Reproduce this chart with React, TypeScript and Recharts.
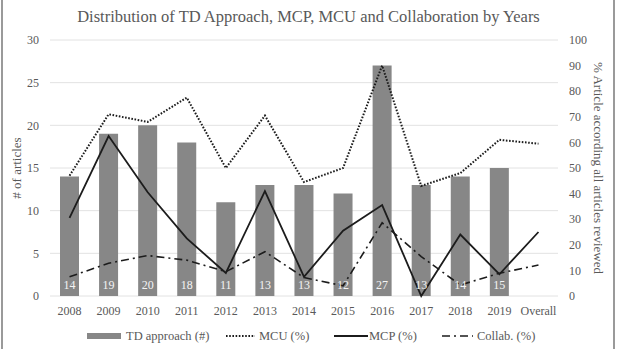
import { ComposedChart, Bar, Line, XAxis, YAxis, CartesianGrid, LabelList } from 'recharts';

const years = ['2008', '2009', '2010', '2011', '2012', '2013', '2014', '2015', '2016', '2017', '2018', '2019', 'Overall'];
const tdApproach = [14, 19, 20, 18, 11, 13, 13, 12, 27, 13, 14, 15, null];
const mcuPct = [47, 71, 68, 77.5, 50, 70.5, 44.5, 50, 90, 43, 48, 61, 59.5];
const mcpPct = [30.5, 62.5, 40.5, 22.5, 9, 41, 7.5, 25.5, 35.5, 0, 24, 8.5, 25];
const collabPct = [7.5, 12.8, 15.8, 14, 9.5, 17.3, 7.2, 4, 28.6, 15.4, 4.3, 8.9, 12.1];

const data = years.map((year, i) => ({
    year,
    td: tdApproach[i],
    mcu: mcuPct[i],
    mcp: mcpPct[i],
    collab: collabPct[i],
}));

const TEXT = '#595959';
const FONT = 'Liberation Serif, DejaVu Serif, serif';
const BAR = '#878787';
const INK = '#1c1c1c';

const tick = { fill: TEXT, fontSize: 12, fontFamily: FONT };

export default function App() {
    return (
        <div style={{ position: 'absolute', left: 0, top: 0, width: 617, height: 349, background: '#fff', fontFamily: FONT, color: TEXT }}>
            {/* frame edges */}
            <div style={{ position: 'absolute', left: 1, top: 0, width: 2, height: 349, background: '#9a9a9a' }} />
            <div style={{ position: 'absolute', left: 613, top: 0, width: 2, height: 349, background: '#9a9a9a' }} />

            <div style={{ position: 'absolute', top: 7, left: 0, width: 617, textAlign: 'center', fontSize: 16.5 }}>
                Distribution of TD Approach, MCP, MCU and Collaboration by Years
            </div>

            <ComposedChart
                width={617}
                height={349}
                data={data}
                margin={{ top: 40, right: 0, left: 0, bottom: 23 }}
                style={{ fontFamily: FONT }}
            >
                <CartesianGrid yAxisId="left" vertical={false} stroke="#e2e2e2" />
                <XAxis
                    dataKey="year"
                    height={30}
                    axisLine={false}
                    tickLine={false}
                    tickSize={0}
                    tickMargin={10}
                    tick={tick}
                    interval={0}
                />
                <YAxis
                    yAxisId="left"
                    width={50}
                    domain={[0, 30]}
                    ticks={[0, 5, 10, 15, 20, 25, 30]}
                    axisLine={false}
                    tickLine={false}
                    tickSize={0}
                    tickMargin={11}
                    tick={tick}
                />
                <YAxis
                    yAxisId="right"
                    orientation="right"
                    width={59}
                    domain={[0, 100]}
                    ticks={[0, 10, 20, 30, 40, 50, 60, 70, 80, 90, 100]}
                    axisLine={false}
                    tickLine={false}
                    tickSize={0}
                    tickMargin={11}
                    tick={tick}
                />
                <Bar yAxisId="left" dataKey="td" fill={BAR} barSize={19} isAnimationActive={false}>
                    <LabelList
                        dataKey="td"
                        position="insideBottom"
                        offset={7}
                        fill="#f4f4f4"
                        fontSize={12}
                        fontFamily={FONT}
                    />
                </Bar>
                <Line
                    yAxisId="right"
                    dataKey="mcu"
                    stroke={INK}
                    strokeWidth={2}
                    strokeDasharray="1.6 1.6"
                    dot={false}
                    type="linear"
                    isAnimationActive={false}
                />
                <Line
                    yAxisId="right"
                    dataKey="mcp"
                    stroke={INK}
                    strokeWidth={1.8}
                    dot={false}
                    type="linear"
                    isAnimationActive={false}
                />
                <Line
                    yAxisId="right"
                    dataKey="collab"
                    stroke={INK}
                    strokeWidth={1.6}
                    strokeDasharray="8 4 2 4"
                    dot={false}
                    type="linear"
                    isAnimationActive={false}
                />
            </ComposedChart>

            {/* axis titles */}
            <div style={{ position: 'absolute', left: 17, top: 168, fontSize: 13, whiteSpace: 'nowrap', transform: 'translate(-50%, -50%) rotate(-90deg)' }}>
                # of articles
            </div>
            <div style={{ position: 'absolute', left: 598, top: 168, fontSize: 13, whiteSpace: 'nowrap', transform: 'translate(-50%, -50%) rotate(90deg)' }}>
                % Article according all articles reviewed
            </div>

            {/* legend */}
            <svg width={617} height={20} style={{ position: 'absolute', left: 0, top: 326 }}>
                <rect x={87} y={7} width={34} height={6} fill={BAR} />
                <text x={126} y={14} fontSize={12.5} fill={TEXT} fontFamily={FONT}>TD approach (#)</text>
                <line x1={226} y1={10} x2={255} y2={10} stroke={INK} strokeWidth={2} strokeDasharray="1.6 1.6" />
                <text x={259} y={14} fontSize={12.5} fill={TEXT} fontFamily={FONT}>MCU (%)</text>
                <line x1={334} y1={10} x2={368} y2={10} stroke={INK} strokeWidth={1.8} />
                <text x={369} y={14} fontSize={12.5} fill={TEXT} fontFamily={FONT}>MCP (%)</text>
                <line x1={442} y1={10} x2={473} y2={10} stroke={INK} strokeWidth={1.6} strokeDasharray="8 4 2 4" />
                <text x={477} y={14} fontSize={12.5} fill={TEXT} fontFamily={FONT}>Collab. (%)</text>
            </svg>
        </div>
    );
}
